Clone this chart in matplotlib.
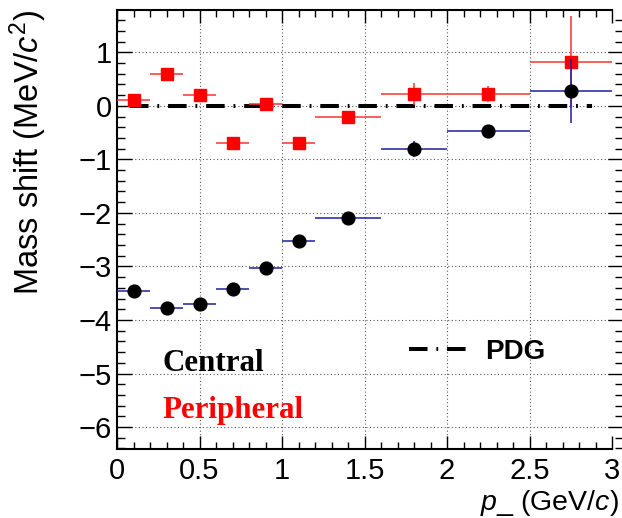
import numpy as np
import matplotlib
matplotlib.use('Agg')
import matplotlib.pyplot as plt
from matplotlib.lines import Line2D
from matplotlib.ticker import MultipleLocator

plt.rcParams['font.family'] = ['Liberation Sans', 'DejaVu Sans']
plt.rcParams['mathtext.fontset'] = 'custom'
plt.rcParams['mathtext.rm'] = 'Liberation Sans'
plt.rcParams['mathtext.it'] = 'Liberation Sans:italic'

# pT bins (centre and half width)
pt = np.array([0.1, 0.3, 0.5, 0.7, 0.9, 1.1, 1.4, 1.8, 2.25, 2.75])
pt_hw = np.array([0.1, 0.1, 0.1, 0.1, 0.1, 0.1, 0.2, 0.2, 0.25, 0.25])

# mass shift in MeV/c^2
central = np.array([-3.46, -3.78, -3.71, -3.42, -3.02, -2.52, -2.09, -0.80, -0.47, 0.28])
central_err = np.array([0.05, 0.05, 0.05, 0.05, 0.05, 0.05, 0.05, 0.15, 0.10, 0.60])
peripheral = np.array([0.10, 0.60, 0.20, -0.70, 0.03, -0.70, -0.21, 0.22, 0.22, 0.82])
peripheral_err = np.array([0.10, 0.10, 0.10, 0.10, 0.10, 0.10, 0.10, 0.20, 0.15, 0.85])

pdg_x = [0.08, 2.88]
pdg_y = [0.0, 0.0]

fig = plt.figure(figsize=(6.22, 5.18), dpi=100)
ax = fig.add_axes([117/622, 1-449/518, 495/622, 439/518])

ax.set_xlim(0, 3)
ax.set_ylim(-6.41, 1.79)

ax.grid(True, which='major', color='#555555', linestyle=(0, (1, 2.2)), linewidth=0.8)
ax.set_axisbelow(True)

dashdot = (0, (4.6, 2.2, 0.45, 2.2))
ax.plot(pdg_x, pdg_y, color='black', lw=2.9, linestyle=dashdot,
        dash_capstyle='butt', zorder=2)

ax.errorbar(pt, peripheral, xerr=pt_hw, yerr=peripheral_err, fmt='s',
            color='red', ecolor='#ff3030', elinewidth=1.1, capsize=0,
            markersize=9.0, zorder=3)
ax.errorbar(pt, central, xerr=pt_hw, yerr=central_err, fmt='o',
            color='black', ecolor='#1f1f9f', elinewidth=1.1, capsize=0,
            markersize=9.2, zorder=4)

ax.xaxis.set_minor_locator(MultipleLocator(0.1))
ax.yaxis.set_minor_locator(MultipleLocator(0.2))
ax.set_xticks([0, 0.5, 1, 1.5, 2, 2.5, 3])
ax.set_xticklabels(['0', '0.5', '1', '1.5', '2', '2.5', '3'])
ax.set_yticks([1, 0, -1, -2, -3, -4, -5, -6])
ax.set_yticklabels(['1', '0', '\u22121', '\u22122', '\u22123', '\u22124', '\u22125', '\u22126'])

ax.tick_params(axis='x', which='major', direction='in', length=9.4, width=1.0,
               top=True, labelsize=21, pad=6)
ax.tick_params(axis='x', which='minor', direction='in', length=4.7, width=1.0, top=True)
ax.tick_params(axis='y', which='major', direction='in', length=10.8, width=1.0,
               right=True, labelsize=21, pad=3.5)
ax.tick_params(axis='y', which='minor', direction='in', length=5.8, width=1.0, right=True)

for s in ax.spines.values():
    s.set_linewidth(1.5)
ax.spines['right'].set_position(('outward', 8))

fig.text(28/622, 1-10/518, r'Mass shift (MeV/$c^2$)', rotation=90,
         ha='center', va='top', fontsize=23.5)
fig.text(619/622, 1-510/518, r'$p$_ (GeV/$c$)', ha='right', va='baseline',
         fontsize=20.5)

ax.text(0.0923, 0.1777, 'Central', transform=ax.transAxes, color='black',
        fontsize=22.3, fontweight='bold', family='Liberation Serif')
ax.text(0.0923, 0.0699, 'Peripheral', transform=ax.transAxes, color='red',
        fontsize=22.3, fontweight='bold', family='Liberation Serif')

h = Line2D([], [], color='black', lw=2.9, linestyle=dashdot, dash_capstyle='butt')
ax.legend([h], ['PDG'], loc='center left', bbox_to_anchor=(0.590, 0.221),
          frameon=False, borderpad=0, borderaxespad=0, handlelength=2.05,
          handletextpad=0.68, prop={'weight': 'bold', 'size': 20})

fig.savefig('out.png', dpi=100)
